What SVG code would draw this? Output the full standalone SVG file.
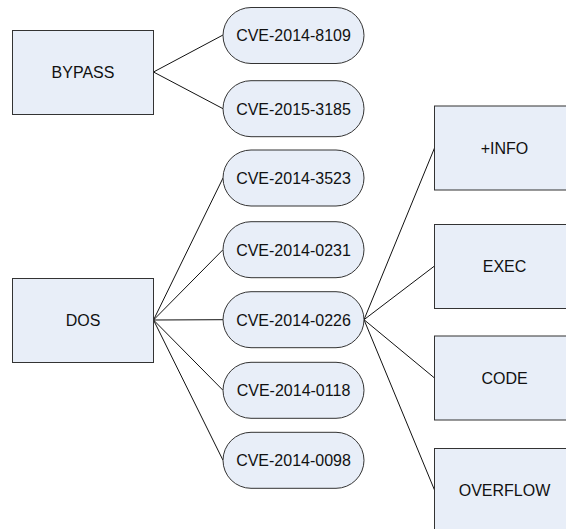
<svg xmlns="http://www.w3.org/2000/svg" width="566" height="529" viewBox="0 0 566 529">
<style>
.n{fill:#e8eef8;stroke:#333;stroke-width:1}
.t{font-family:"Liberation Sans",Arial,sans-serif;font-size:16px;fill:#111;text-anchor:middle}
.c{stroke:#111;stroke-width:1;fill:none}
</style>
<rect width="566" height="529" fill="#fff"/>
<g id="connectors">
<path class="c" d="M153.5 72 L223 35 M153.5 72 L223 108.7"/>
<path class="c" d="M153.5 320 L223 178 M153.5 320 L223 249.7 M153.5 320 L223 319.7 M153.5 320 L223 390.3 M153.5 320 L223 460.3"/>
<path class="c" d="M364 319.7 L434.5 148 M364 319.7 L434.5 266 M364 319.7 L434.5 378 M364 319.7 L434.5 490"/>
</g>
<g id="bypass"><rect class="n" x="12.5" y="30.5" width="141" height="84"/><text class="t" x="83" y="78">BYPASS</text></g>
<g id="dos"><rect class="n" x="12.5" y="278.5" width="141" height="84"/><text class="t" x="83" y="326">DOS</text></g>
<g id="cve-2014-8109"><rect class="n" x="223" y="7.5" width="141" height="56" rx="28"/><text class="t" x="293.5" y="41">CVE-2014-8109</text></g>
<g id="cve-2015-3185"><rect class="n" x="223" y="80.7" width="141" height="56" rx="28"/><text class="t" x="293.5" y="114.5">CVE-2015-3185</text></g>
<g id="cve-2014-3523"><rect class="n" x="223" y="150" width="141" height="56" rx="28"/><text class="t" x="293.5" y="184">CVE-2014-3523</text></g>
<g id="cve-2014-0231"><rect class="n" x="223" y="221.7" width="141" height="56" rx="28"/><text class="t" x="293.5" y="255.5">CVE-2014-0231</text></g>
<g id="cve-2014-0226"><rect class="n" x="223" y="291.7" width="141" height="56" rx="28"/><text class="t" x="293.5" y="325.5">CVE-2014-0226</text></g>
<g id="cve-2014-0118"><rect class="n" x="223" y="362.3" width="141" height="56" rx="28"/><text class="t" x="293.5" y="396">CVE-2014-0118</text></g>
<g id="cve-2014-0098"><rect class="n" x="223" y="432.3" width="141" height="56" rx="28"/><text class="t" x="293.5" y="466">CVE-2014-0098</text></g>
<g id="info"><rect class="n" x="434.5" y="106" width="140" height="84"/><text class="t" x="504.5" y="154">+INFO</text></g>
<g id="exec"><rect class="n" x="434.5" y="224.5" width="140" height="84"/><text class="t" x="504.5" y="272">EXEC</text></g>
<g id="code"><rect class="n" x="434.5" y="336" width="140" height="84"/><text class="t" x="504.5" y="384">CODE</text></g>
<g id="overflow"><rect class="n" x="434.5" y="448.5" width="140" height="84"/><text class="t" x="504.5" y="496">OVERFLOW</text></g>
</svg>
